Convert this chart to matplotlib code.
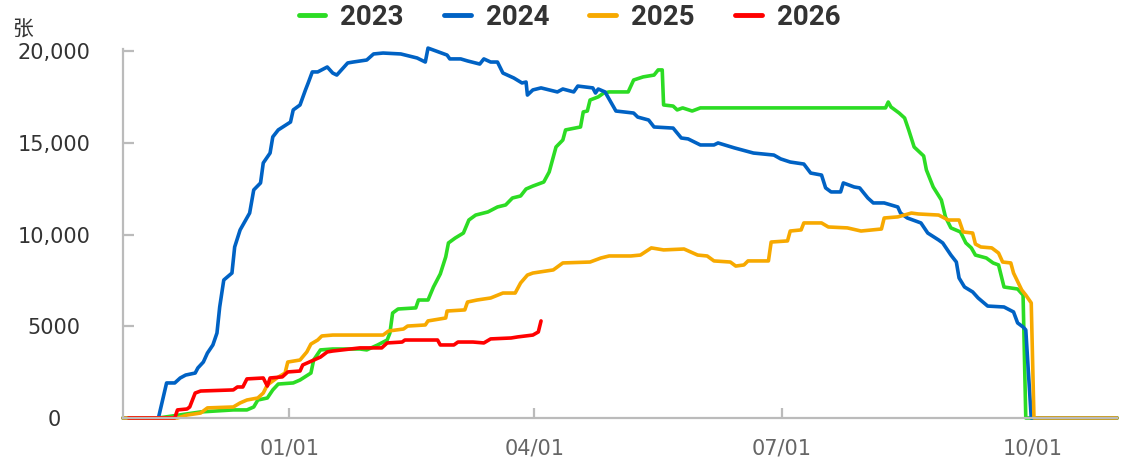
import matplotlib.pyplot as plt
from matplotlib.ticker import FuncFormatter

# x data = days counted from 1 Nov (season axis runs Nov -> Oct)
days_2023 = [
    0, 13, 28.5, 40.5, 45.5, 48, 49.5, 53, 55, 57,
    62.5, 65, 69, 70, 72.5, 77, 87, 89.5, 93.5, 97,
    98, 99, 101, 107.5, 108.5, 112, 114, 116.5, 118.5, 119.5,
    122, 125, 127, 129.5, 134, 137.5, 140.5, 143, 146, 148,
    150.5, 154.5, 156.5, 159, 161.5, 162.5, 168, 169, 170.5, 171.5,
    174.5, 176.5, 178.5, 185.5, 187.5, 191, 195, 196.5, 198, 198.5,
    202, 203.5, 205.5, 209, 212, 280, 281, 282, 285, 287,
    288.5, 290.5, 294, 295, 297.5, 300.5, 302, 304, 307.5, 309.5,
    311.5, 313, 317, 319.5, 321.5, 323.5, 328.5, 330.5, 331.5, 365]
vals_2023 = [
    0, 0, 330, 440, 440, 600, 980, 1090, 1530, 1850,
    1910, 2070, 2450, 3160, 3710, 3760, 3760, 3710, 3980, 4250,
    4630, 5720, 5940, 6000, 6430, 6430, 7140, 7850, 8780, 9540,
    9810, 10080, 10790, 11060, 11230, 11500, 11610, 11990, 12100, 12480,
    12640, 12860, 13410, 14770, 15150, 15700, 15860, 16680, 16730, 17330,
    17500, 17710, 17770, 17770, 18420, 18590, 18690, 18970, 18970, 17060,
    17000, 16790, 16900, 16730, 16900, 16900, 17220, 16950, 16620, 16350,
    15700, 14770, 14280, 13520, 12590, 11880, 10960, 10360, 10140, 9540,
    9270, 8880, 8720, 8450, 8340, 7140, 7030, 6700, 0, 0]

days_2024 = [
    0, 13, 16, 19, 21, 23, 26.5, 27.5, 29.5, 31,
    33, 34.5, 35.5, 37, 40, 41, 43, 46.5, 48, 50.5,
    51.5, 54, 55, 57, 61.5, 62.5, 65, 67, 68, 69.5,
    71.5, 75, 77, 78.5, 82.5, 84.5, 89.5, 92, 95.5, 102,
    108, 111, 112, 119, 120, 124, 126.5, 131, 132.5, 135,
    137.5, 139.5, 143.5, 146.5, 148, 148.5, 150.5, 153.5, 159.5, 161.5,
    165.5, 167, 172.5, 173.5, 174.5, 177, 181, 187.5, 189, 193,
    195, 202, 205, 207.5, 212, 217, 218.5, 224.5, 231.5, 239,
    241.5, 245, 250, 252.5, 256.5, 258, 260, 263.5, 264.5, 268.5,
    270.5, 273.5, 275.5, 279.5, 284.5, 285.5, 288, 293, 295.5, 299.5,
    301, 304, 306, 307, 309, 312, 314, 317.5, 323.5, 327,
    328.5, 330.5, 331.5, 333.5, 365]
vals_2024 = [
    0, 0, 1910, 1910, 2180, 2340, 2450, 2730, 3050, 3540,
    3980, 4630, 6050, 7520, 7900, 9320, 10250, 11170, 12430, 12810,
    13900, 14440, 15320, 15700, 16130, 16790, 17060, 17880, 18260, 18860,
    18860, 19130, 18800, 18690, 19350, 19400, 19510, 19840, 19890, 19840,
    19620, 19400, 20160, 19780, 19570, 19570, 19460, 19290, 19570, 19400,
    19400, 18800, 18530, 18260, 18310, 17600, 17880, 17990, 17770, 17930,
    17770, 18090, 17990, 17710, 17930, 17770, 16730, 16620, 16400, 16240,
    15860, 15800, 15260, 15210, 14880, 14880, 14990, 14720, 14440, 14330,
    14120, 13950, 13840, 13350, 13240, 12540, 12320, 12320, 12810, 12590,
    12540, 11990, 11720, 11720, 11500, 11170, 10900, 10630, 10080, 9700,
    9540, 8880, 8500, 7630, 7140, 6870, 6540, 6100, 6050, 5780,
    5180, 4960, 4800, 0, 0]

days_2025 = [
    0, 20, 23.5, 28.5, 31, 40.5, 43, 45.5, 49.5, 51.5,
    53, 56.5, 59.5, 60.5, 65, 67.5, 69, 71.5, 73, 77,
    95.5, 97.5, 103, 104.5, 111, 112, 118.5, 119, 125.5, 126.5,
    130, 135, 139.5, 144, 146, 148.5, 150.5, 158, 161.5, 171.5,
    175.5, 178.5, 186.5, 190, 194, 198.5, 206, 211, 214.5, 217,
    223, 225, 228, 229.5, 237, 238, 244, 245, 249, 250,
    256.5, 259, 266, 271, 278.5, 279.5, 284.5, 289.5, 292, 299.5,
    303, 307, 308.5, 312, 313, 315, 319, 321.5, 323, 326,
    327, 330, 331.5, 333.5, 334.5, 365]
vals_2025 = [
    0, 0, 160, 270, 550, 600, 820, 980, 1090, 1360,
    1800, 2180, 2450, 3050, 3160, 3600, 4030, 4250, 4470, 4520,
    4520, 4740, 4850, 5010, 5070, 5290, 5450, 5830, 5890, 6320,
    6430, 6540, 6810, 6810, 7360, 7790, 7900, 8070, 8450, 8500,
    8720, 8830, 8830, 8880, 9270, 9160, 9210, 8880, 8830, 8560,
    8500, 8280, 8340, 8560, 8560, 9590, 9650, 10190, 10250, 10630,
    10630, 10410, 10360, 10190, 10300, 10900, 10960, 11170, 11120, 11060,
    10790, 10790, 10140, 10080, 9480, 9320, 9270, 8990, 8500, 8450,
    7900, 6980, 6700, 6270, 0, 0]

days_2026 = [
    2, 19, 20, 23.5, 24.5, 26.5, 28.5, 40.5, 42, 44,
    45.5, 51.5, 53, 54, 58.5, 60.5, 65, 66, 72.5, 75,
    77, 87, 95, 97, 102.5, 103.5, 115.5, 116.5, 121.5, 123,
    128.5, 132.5, 135, 142.5, 145, 150.5, 152.5, 153.5]
vals_2026 = [
    0, 0, 440, 490, 600, 1360, 1470, 1530, 1690, 1690,
    2130, 2180, 1740, 2180, 2240, 2510, 2560, 2890, 3320, 3600,
    3650, 3820, 3820, 4090, 4140, 4250, 4250, 3980, 3980, 4140,
    4140, 4090, 4310, 4360, 4420, 4520, 4690, 5290]

years = ['2023', '2024', '2025', '2026']
colors = ['#2cdc24', '#0062c4', '#f7a900', '#ff0000']

tick_days = [61, 151, 242, 334]
tick_labels = ['01/01', '04/01', '07/01', '10/01']
y_ticks = [0, 5000, 10000, 15000, 20000]

series = [(days_2023, vals_2023), (days_2024, vals_2024),
          (days_2025, vals_2025), (days_2026, vals_2026)]

fig = plt.figure(figsize=(11.39, 4.73), dpi=100)
ax = fig.add_axes([0.108, 0.1163, 0.8727, 0.7801])

for (d, v), c, lab in zip(series, colors, years):
    ax.plot(d, v, color=c, lw=2.6, label=lab, solid_joinstyle='round',
            solid_capstyle='round', clip_on=False)

ax.set_xlim(0, 365)
ax.set_ylim(0, 20110)
ax.set_xticks(tick_days)
ax.set_xticklabels(tick_labels)
ax.set_yticks(y_ticks)
ax.yaxis.set_major_formatter(FuncFormatter(
    lambda v, p: '{:,}'.format(int(v)) if v >= 10000 else str(int(v))))

for s in ['top', 'right']:
    ax.spines[s].set_visible(False)
for s in ['left', 'bottom']:
    ax.spines[s].set_color('#bbbbbb')
    ax.spines[s].set_linewidth(1.6)

ax.tick_params(axis='both', direction='in', color='#bbbbbb', width=1.6)
ax.tick_params(axis='x', length=7.5, pad=15, labelsize=15, labelcolor='#666666')
ax.tick_params(axis='y', length=8, pad=49.7, labelsize=15, labelcolor='#333333')
for lbl in ax.get_yticklabels():
    lbl.set_horizontalalignment('center')

fig.text(23 / 1139, 1 - 30 / 473, '张', ha='center', va='center', fontsize=15,
         color='#333333', family=['Noto Sans CJK SC', 'DejaVu Sans'])

leg = fig.legend(loc='center', bbox_to_anchor=(0.5, 1 - 17 / 473), ncol=4,
                 frameon=False, handlelength=0.97, handletextpad=0.54,
                 columnspacing=1.44,
                 prop=dict(family=['Roboto', 'DejaVu Sans'],
                           weight='bold', size=20))
for t in leg.get_texts():
    t.set_color('#333333')
for l in leg.get_lines():
    l.set_linewidth(3.5)

fig.savefig('out.png', dpi=100)
